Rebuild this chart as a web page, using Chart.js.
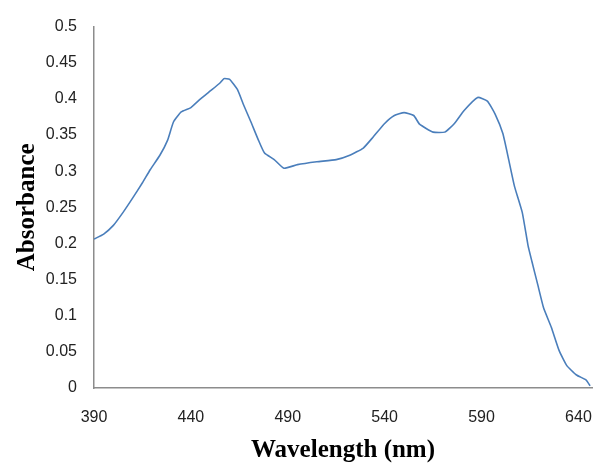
<!DOCTYPE html>
<html>
<head>
<meta charset="utf-8">
<script src="https://cdn.jsdelivr.net/npm/chart.js@4/dist/chart.umd.min.js"></script>
<style>
  body { margin: 0; background: #fff; }
  #wrap { width: 593px; height: 466px; }
</style>
</head>
<body>
<div id="wrap"><canvas id="c" width="593" height="466"></canvas></div>
<script>
// absorbance spectrum
var wavelength = [390, 395, 400, 405, 410, 415, 419, 424, 428, 431, 435, 440, 445, 450, 455, 457, 460, 464, 467, 471,
                  475, 478, 483, 488, 495, 505, 515, 522, 529, 534, 540, 545, 550, 555, 558, 565, 571, 576, 581, 588,
                  593, 597, 601, 604, 607, 611, 614, 616, 619, 622, 626, 630, 634, 639, 644, 646];
var absorbance = [0.206, 0.213, 0.225, 0.243, 0.263, 0.284, 0.302, 0.322, 0.343, 0.368, 0.382, 0.388, 0.400, 0.411, 0.422, 0.428, 0.427, 0.413, 0.393, 0.368,
                  0.342, 0.325, 0.316, 0.304, 0.309, 0.313, 0.316, 0.322, 0.332, 0.347, 0.366, 0.377, 0.381, 0.377, 0.365, 0.354, 0.354, 0.366, 0.384, 0.402,
                  0.397, 0.379, 0.352, 0.316, 0.279, 0.243, 0.197, 0.175, 0.143, 0.111, 0.084, 0.052, 0.031, 0.018, 0.011, 0.003];
var xTicks = [390, 440, 490, 540, 590, 640];
var xTitle = 'Wavelength (nm)';
var yTitle = 'Absorbance';

var points = [];
for (var i = 0; i < wavelength.length; i++) {
    points.push({x: wavelength[i], y: absorbance[i]});
}

var tickFont = {family: 'Liberation Sans', size: 16};
var titleFont = {family: 'Liberation Serif', size: 25, weight: 'bold'};
var axisGray = '#8c8c8c';

new Chart(document.getElementById('c'), {
    type: 'line',
    data: {
        datasets: [{
            data: points,
            borderColor: '#4a7ebb',
            borderWidth: 1.6,
            pointRadius: 0,
            tension: 0.15,
            fill: false
        }]
    },
    options: {
        responsive: false,
        animation: false,
        layout: {padding: {top: 21, right: 1, left: 0, bottom: 0}},
        plugins: {legend: {display: false}, tooltip: {enabled: false}},
        scales: {
            x: {
                type: 'linear',
                min: 390,
                max: 647,
                afterBuildTicks: function (scale) {
                    scale.ticks = xTicks.map(function (v) { return {value: v}; });
                },
                afterFit: function (scale) {
                    scale.height = 78;
                    // let the plot run to the right edge like the original
                    scale.paddingLeft = 0;
                    scale.paddingRight = 0;
                },
                grid: {display: false, drawTicks: false},
                border: {display: true, color: axisGray, width: 1.5},
                ticks: {font: tickFont, color: '#222', padding: 20, maxRotation: 0, autoSkip: false},
                title: {display: true, text: xTitle, font: titleFont, color: '#000', padding: {top: 0, bottom: 0}}
            },
            y: {
                min: 0,
                max: 0.5,
                afterFit: function (scale) { scale.width = 94; },
                grid: {display: false, drawTicks: false},
                border: {display: true, color: axisGray, width: 1.5},
                ticks: {
                    stepSize: 0.05, font: tickFont, color: '#222', padding: 17,
                    callback: function (v) { return String(Math.round(v * 100) / 100); }
                },
                title: {display: true, text: yTitle, font: titleFont, color: '#000', padding: {top: 13, bottom: 0}}
            }
        }
    }
});
</script>
</body>
</html>
